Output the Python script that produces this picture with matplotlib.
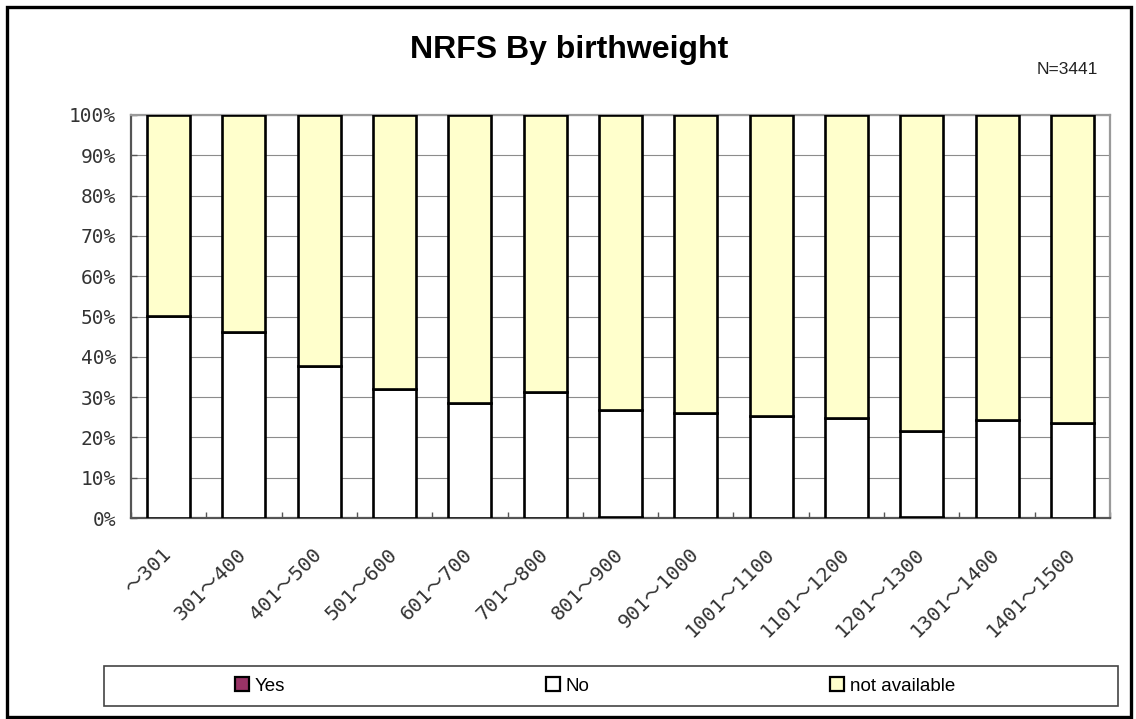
import matplotlib
matplotlib.use("Agg")
import matplotlib.pyplot as plt
from matplotlib.patches import Rectangle, Patch
from matplotlib.ticker import FixedLocator, PercentFormatter
import numpy as np

categories = ["～301", "301～400", "401～500", "501～600", "601～700", "701～800",
              "801～900", "901～1000", "1001～1100", "1101～1200", "1201～1300",
              "1301～1400", "1401～1500"]
yes = [0, 0, 0, 0, 0, 0, 0.3, 0, 0, 0, 0.3, 0, 0]
no = [50.2, 46.2, 37.7, 32.1, 28.5, 31.2, 26.5, 26.1, 25.4, 24.9, 21.3, 24.2, 23.5]
not_available = [49.8, 53.8, 62.3, 67.9, 71.5, 68.8, 73.2, 73.9, 74.6, 75.1, 78.4, 75.8, 76.5]
series_names = ["Yes", "No", "not available"]
colors = ["#993366", "#FFFFFF", "#FFFFCC"]
yticks = [0, 10, 20, 30, 40, 50, 60, 70, 80, 90, 100]

W, H = 1136, 719
fig = plt.figure(figsize=(W / 100, H / 100), dpi=100)

def fx(px):
    return px / W

def fy(py):
    return 1 - py / H

L, R, T, B = 131, 1110, 115, 518
ax = fig.add_axes([fx(L), fy(B), fx(R) - fx(L), fy(T) - fy(B)])

x = np.arange(len(categories))
bw = 0.57
yes_a = np.array(yes)
no_a = np.array(no)
na_a = np.array(not_available)
lw = 1.9
ax.bar(x, yes_a, bw, color=colors[0], edgecolor="black", linewidth=lw, zorder=3)
ax.bar(x, no_a, bw, bottom=yes_a, color=colors[1], edgecolor="black", linewidth=lw, zorder=3)
ax.bar(x, na_a, bw, bottom=yes_a + no_a, color=colors[2], edgecolor="black", linewidth=lw, zorder=3)

ax.set_xlim(-0.5, len(categories) - 0.5)
ax.set_ylim(0, 100)
ax.set_yticks(yticks)
ax.yaxis.set_major_formatter(PercentFormatter(decimals=0))
ax.grid(axis="y", color="#8c8c8c", linewidth=0.8, zorder=0)
ax.set_axisbelow(True)

tick_font = ["DejaVu Sans Mono", "Noto Sans CJK JP"]
ax.tick_params(axis="y", direction="in", length=4, width=1.0, color="#555555", pad=10.8,
               labelsize=14)
for lab in ax.get_yticklabels():
    lab.set_family(tick_font)
    lab.set_color("#333333")

ax.set_xticks(x)
ax.set_xticklabels(categories, rotation=45, ha="right", va="center", rotation_mode="anchor",
                   family=tick_font, fontsize=14.5, color="#333333")
ax.tick_params(axis="x", which="major", length=0, pad=24)
ax.xaxis.set_minor_locator(FixedLocator(np.arange(-0.5, len(categories), 1.0)))
ax.tick_params(axis="x", which="minor", direction="in", length=4, width=1.0, color="#555555")

for side in ["left", "bottom"]:
    ax.spines[side].set_color("#555555")
    ax.spines[side].set_linewidth(1.6)
for side in ["top", "right"]:
    ax.spines[side].set_color("#9a9a9a")
    ax.spines[side].set_linewidth(1.6)

# title and note
fig.text(fx(569), fy(50), "NRFS By birthweight", ha="center", va="center",
         fontsize=23, fontweight="bold", family="Liberation Sans")
fig.text(fx(1098), fy(70), "N=3441", ha="right", va="center", fontsize=12.5,
         family="Liberation Sans", color="#222222")

# outer frame
fig.add_artist(Rectangle((fx(6.5), fy(717)), fx(1131) - fx(6.5), fy(6.5) - fy(717),
                         transform=fig.transFigure, fill=False, edgecolor="black",
                         linewidth=2.4))

# legend box
fig.add_artist(Rectangle((fx(104), fy(706)), fx(1118) - fx(104), fy(666) - fy(706),
                         transform=fig.transFigure, fill=False, edgecolor="#444444",
                         linewidth=1.2))
leg_x = [235, 546, 830]
for name, col, lx in zip(series_names, colors, leg_x):
    h = Patch(facecolor=col, edgecolor="black", linewidth=1.6)
    fig.legend([h], [name], loc="center left", bbox_to_anchor=(fx(lx), fy(686)),
               frameon=False, borderpad=0, borderaxespad=0, handlelength=0.75,
               handleheight=0.75, handletextpad=0.3,
               prop={"family": "Liberation Sans", "size": 13.5})

fig.savefig("out.png", dpi=100)
